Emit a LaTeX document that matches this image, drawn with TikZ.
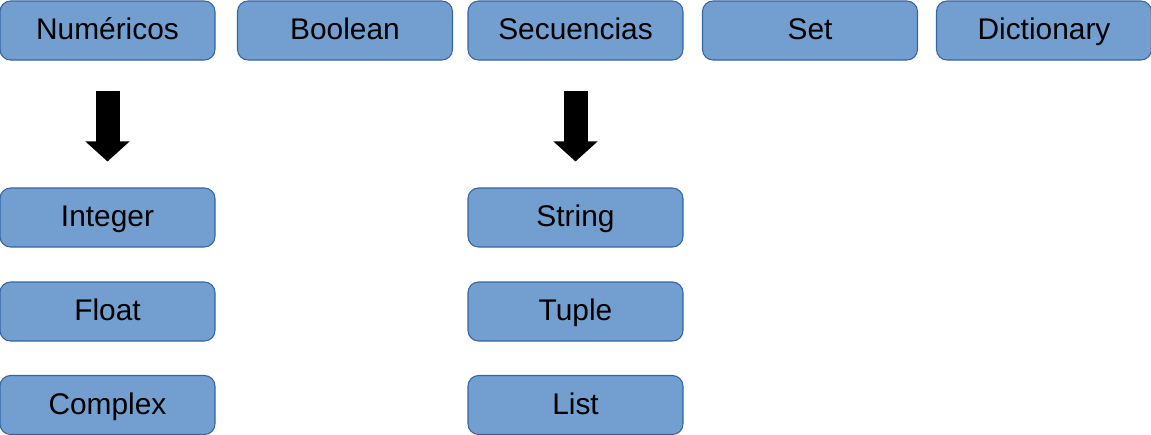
\documentclass[tikz,border=0pt]{standalone}
\usepackage{fontspec}
\setmainfont{Liberation Sans}
\usetikzlibrary{arrows.meta}
\definecolor{boxfill}{HTML}{729FCF}
\definecolor{boxline}{HTML}{3465A4}
\tikzset{
  tbox/.style={draw=boxline, line width=.6pt, fill=boxfill, rounded corners=6pt,
               minimum width=4.3cm, minimum height=1.18cm, inner sep=0pt,
               text height=14pt, text depth=3.2pt, font=\fontsize{17}{19}\selectfont},
  down/.style={draw=black, line width=.48cm, shorten <=.6cm, shorten >=.52cm,
               -{Triangle[width=.86cm,length=.4cm]}},
}
\begin{document}
\begin{tikzpicture}
  \useasboundingbox (0,0) rectangle (23.02,-8.68);
  % fila de tipos
  \node[tbox] (num) at (2.15,-.61)  {Numéricos};
  \node[tbox] (bool) at (6.9,-.61)  {Boolean};
  \node[tbox] (sec) at (11.51,-.61) {Secuencias};
  \node[tbox] (set) at (16.2,-.61)  {Set};
  \node[tbox] (dic) at (20.88,-.61) {Dictionary};
  % numericos
  \node[tbox] (int) at (2.15,-4.35) {Integer};
  \node[tbox] (flt) at (2.15,-6.23) {Float};
  \node[tbox] (cpx) at (2.15,-8.1)  {Complex};
  % secuencias
  \node[tbox] (str) at (11.51,-4.35) {String};
  \node[tbox] (tup) at (11.51,-6.23) {Tuple};
  \node[tbox] (lst) at (11.51,-8.1)  {List};

  \draw[down] (num) -- (int);
  \draw[down] (sec) -- (str);
\end{tikzpicture}
\end{document}
